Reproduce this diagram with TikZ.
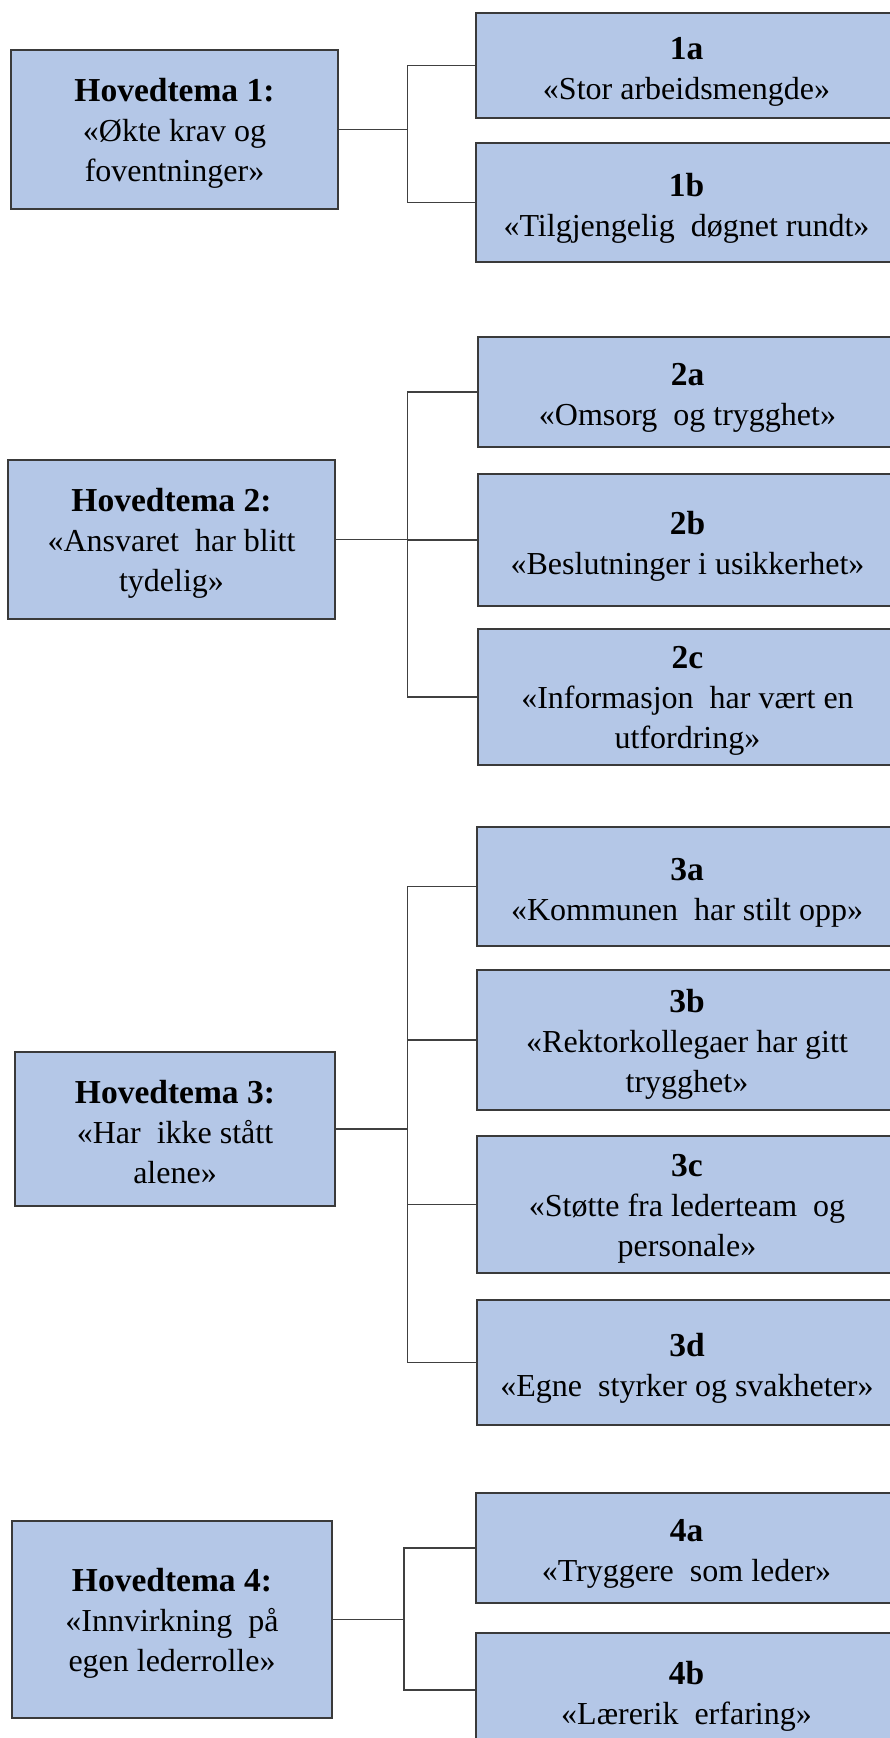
\documentclass[tikz,border=0pt]{standalone}
\usepackage{fontspec}
\setmainfont{Liberation Serif}
\definecolor{boxfill}{HTML}{B4C7E7}
\definecolor{boxline}{HTML}{3A3A3A}
\definecolor{conn}{HTML}{404040}
\newcommand{\hd}[1]{{\fontsize{33.5}{40}\selectfont\bfseries #1}}
\tikzset{
  bx/.style 2 args={draw=boxline, line width=2pt, fill=boxfill, inner sep=0pt,
    minimum width=#1, minimum height=#2},
  txt/.style={inner sep=0pt, align=center, font=\fontsize{32}{40}\selectfont},
  link/.style={draw=conn, line width=1.3pt}
}
\begin{document}
\begin{tikzpicture}[x=1pt,y=-1pt]
\useasboundingbox (0,0) rectangle (890,1738);
\clip (0,0) rectangle (890,1738);
\fill[white] (0,0) rectangle (890,1738);
% group 1
\node[bx={327pt}{159pt}] (H1) at (174.5,129.5) {};
\node[txt] (H1t) at ([yshift=-4pt]H1.center) {\hd{Hovedtema 1:}\\«Økte krav og\\foventninger»};
\node[bx={421pt}{105pt}] (A1) at (686.5,65.5) {};
\node[txt] (A1t) at ([yshift=-6pt]A1.center) {\hd{1a}\\«Stor arbeidsmengde»};
\node[bx={421pt}{119pt}] (B1) at (686.5,202.5) {};
\node[txt] (B1t) at ([yshift=-6pt]B1.center) {\hd{1b}\\«Tilgjengelig\ \ døgnet rundt»};
\coordinate (J1) at (407.5,129.5);
\draw[link] (H1.east) -- (J1);
\draw[link] (A1.west) -| (J1) |- (B1.west);
% group 2
\node[bx={327pt}{159pt}] (H2) at (171.5,539.5) {};
\node[txt] (H2t) at ([yshift=-4pt]H2.center) {\hd{Hovedtema 2:}\\«Ansvaret\ \ har blitt\\tydelig»};
\node[bx={419pt}{110pt}] (A2) at (687.5,392) {};
\node[txt] (A2t) at ([yshift=-6pt]A2.center) {\hd{2a}\\«Omsorg\ \ og trygghet»};
\node[bx={419pt}{132pt}] (B2) at (687.5,540) {};
\node[txt] (B2t) at ([yshift=-6pt]B2.center) {\hd{2b}\\«Beslutninger i usikkerhet»};
\node[bx={419pt}{136pt}] (C2) at (687.5,697) {};
\node[txt] (C2t) at ([yshift=-4pt]C2.center) {\hd{2c}\\«Informasjon\ \ har vært en\\utfordring»};
\coordinate (J2) at (407.5,539.5);
\draw[link] (H2.east) -- (J2);
\draw[link] (A2.west) -| (J2) |- (C2.west);
\draw[link] (J2 |- B2.west) -- (B2.west);
% group 3
\node[bx={320pt}{154pt}] (H3) at (175,1128.5) {};
\node[txt] (H3t) at ([yshift=-4pt]H3.center) {\hd{Hovedtema 3:}\\«Har\ \ ikke stått\\alene»};
\node[bx={420pt}{119pt}] (A3) at (687,886.5) {};
\node[txt] (A3t) at ([yshift=-6pt]A3.center) {\hd{3a}\\«Kommunen\ \ har stilt opp»};
\node[bx={420pt}{140pt}] (B3) at (687,1040) {};
\node[txt] (B3t) at ([yshift=-4pt]B3.center) {\hd{3b}\\«Rektorkollegaer har gitt\\trygghet»};
\node[bx={420pt}{137pt}] (C3) at (687,1204.5) {};
\node[txt] (C3t) at ([yshift=-4pt]C3.center) {\hd{3c}\\«Støtte fra lederteam\ \ og\\personale»};
\node[bx={420pt}{125pt}] (D3) at (687,1362.5) {};
\node[txt] (D3t) at ([yshift=-6pt]D3.center) {\hd{3d}\\«Egne\ \ styrker og svakheter»};
\coordinate (J3) at (407.5,1128.5);
\draw[link, line width=2pt] (H3.east) -- (J3);
\draw[link] (A3.west) -| (J3) |- (D3.west);
\draw[link] (J3 |- B3.west) -- (B3.west);
\draw[link] (J3 |- C3.west) -- (C3.west);
% group 4
\node[bx={320pt}{197pt}] (H4) at (172,1619.5) {};
\node[txt] (H4t) at ([yshift=-4pt]H4.center) {\hd{Hovedtema 4:}\\«Innvirkning\ \ på\\egen lederrolle»};
\node[bx={421pt}{110pt}] (A4) at (686.5,1548) {};
\node[txt] (A4t) at ([yshift=-6pt]A4.center) {\hd{4a}\\«Tryggere\ \ som leder»};
\node[bx={421pt}{114pt}] (B4) at (686.5,1690) {};
\node[txt] (B4t) at ([yshift=-6pt]B4.center) {\hd{4b}\\«Lærerik\ \ erfaring»};
\coordinate (J4) at (404,1619.5);
\draw[link] (H4.east) -- (J4);
\draw[link] (A4.west) -| (J4) |- (B4.west);
\end{tikzpicture}
\end{document}
